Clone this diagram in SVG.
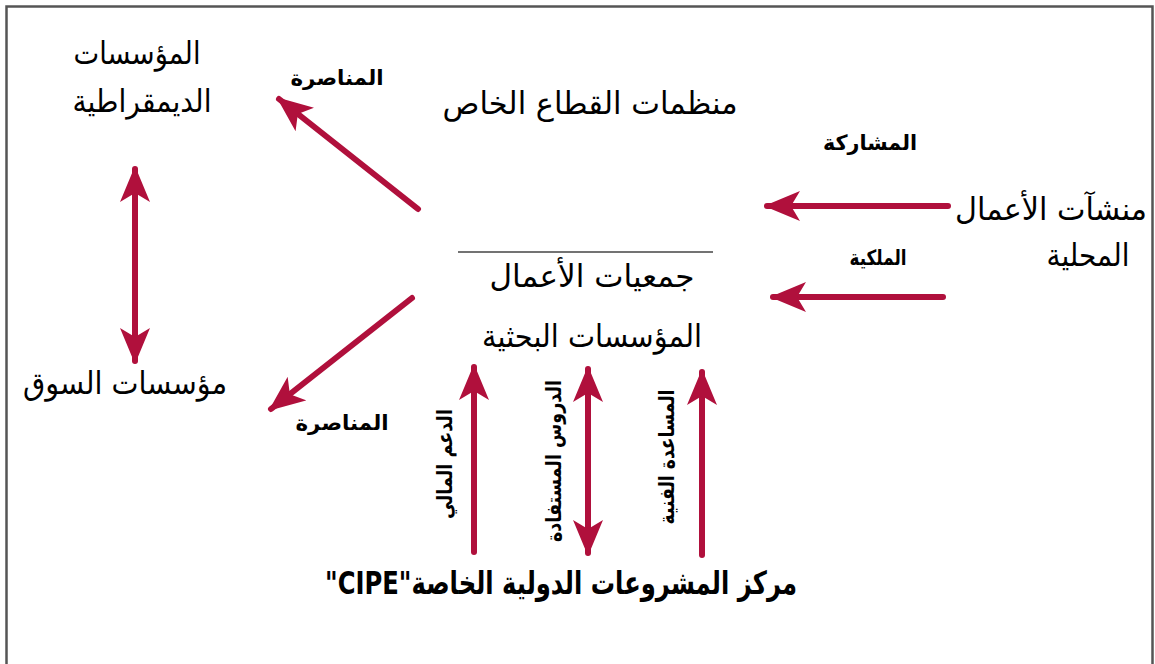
<svg xmlns="http://www.w3.org/2000/svg" width="1155" height="664" viewBox="0 0 1155 664">
<defs>
<style>
.t{font-family:"DejaVu Sans",sans-serif;fill:#000;text-anchor:middle;direction:rtl}
.big{font-size:31px}
.small{font-size:21px;font-weight:bold}
.title{font-size:32px;font-weight:bold}
.conn{stroke:#B0103C;stroke-width:6;stroke-linecap:round;fill:none}
</style>
<marker id="ah" viewBox="0 0 12 10" refX="11" refY="5" markerWidth="6" markerHeight="5" orient="auto-start-reverse" markerUnits="strokeWidth">
<path d="M0,0 L12,5 L0,10 L3,5 Z" fill="#B0103C"/>
</marker>
</defs>
<rect x="0" y="0" width="1155" height="664" fill="#fff"/>
<path d="M6.5,668 V6.5 H1152.5 V668" fill="none" stroke="#555" stroke-width="2.5"/>
<line x1="458" y1="252" x2="713" y2="252" stroke="#444" stroke-width="1.5"/>

<g id="connectors">
<line class="conn" x1="418" y1="209" x2="279" y2="99" marker-end="url(#ah)"/>
<line class="conn" x1="135" y1="169" x2="135" y2="361" marker-start="url(#ah)" marker-end="url(#ah)"/>
<line class="conn" x1="412" y1="298" x2="271" y2="409" marker-end="url(#ah)"/>
<line class="conn" x1="948" y1="206" x2="767" y2="206" marker-end="url(#ah)"/>
<line class="conn" x1="943" y1="297" x2="773" y2="297" marker-end="url(#ah)"/>
<line class="conn" x1="474" y1="552" x2="474" y2="367" marker-end="url(#ah)"/>
<line class="conn" x1="588" y1="369" x2="588" y2="553" marker-start="url(#ah)" marker-end="url(#ah)"/>
<line class="conn" x1="702" y1="555" x2="702" y2="372" marker-end="url(#ah)"/>
</g>

<g id="democratic-institutions">
<text class="t big" x="137" y="64" textLength="127" lengthAdjust="spacingAndGlyphs">المؤسسات</text>
<text class="t big" x="142" y="112" textLength="139" lengthAdjust="spacingAndGlyphs">الديمقراطية</text>
</g>
<g id="private-sector">
<text class="t big" x="590" y="114" textLength="295" lengthAdjust="spacingAndGlyphs">منظمات القطاع الخاص</text>
</g>
<g id="local-business">
<text class="t big" x="1051" y="220" textLength="192" lengthAdjust="spacingAndGlyphs">منشآت الأعمال</text>
<text class="t big" x="1088" y="266" textLength="83" lengthAdjust="spacingAndGlyphs">المحلية</text>
</g>
<g id="business-associations">
<text class="t big" x="592" y="287" textLength="205" lengthAdjust="spacingAndGlyphs">جمعيات الأعمال</text>
<text class="t big" x="592" y="347" textLength="220" lengthAdjust="spacingAndGlyphs">المؤسسات البحثية</text>
</g>
<g id="market-institutions">
<text class="t big" x="125" y="394" textLength="204" lengthAdjust="spacingAndGlyphs">مؤسسات السوق</text>
</g>
<g id="cipe">
<text class="t title" x="561" y="594" textLength="472" lengthAdjust="spacingAndGlyphs">مركز المشروعات الدولية الخاصة"CIPE"</text>
</g>

<g id="labels">
<text class="t small" x="337" y="85" textLength="93" lengthAdjust="spacingAndGlyphs">المناصرة</text>
<text class="t small" x="342" y="430" textLength="93" lengthAdjust="spacingAndGlyphs">المناصرة</text>
<text class="t small" x="870" y="150" textLength="94" lengthAdjust="spacingAndGlyphs">المشاركة</text>
<text class="t small" x="878" y="265" textLength="57" lengthAdjust="spacingAndGlyphs">الملكية</text>
<text class="t small" transform="translate(452,464) rotate(-90)" x="0" y="0" textLength="110" lengthAdjust="spacingAndGlyphs">الدعم المالي</text>
<text class="t small" transform="translate(561,461) rotate(-90)" x="0" y="0" textLength="162" lengthAdjust="spacingAndGlyphs">الدروس المستفادة</text>
<text class="t small" transform="translate(674,457) rotate(-90)" x="0" y="0" textLength="135" lengthAdjust="spacingAndGlyphs">المساعدة الفنية</text>
</g>
</svg>
